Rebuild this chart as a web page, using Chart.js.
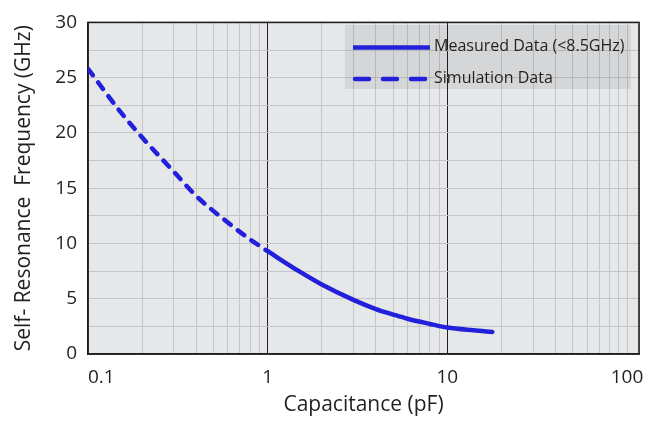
<!DOCTYPE html>
<html>
<head>
<meta charset="utf-8">
<script src="https://cdn.jsdelivr.net/npm/chart.js@4.4.1/dist/chart.umd.min.js"></script>
<style>
  html, body { margin: 0; padding: 0; background: #fff; }
  #wrap { width: 659px; height: 422px; }
</style>
</head>
<body>
<div id="wrap"><canvas id="srfChart" width="659" height="422"></canvas></div>
<script>
// capacitance (pF) vs self-resonance frequency (GHz)
const capSim = [0.1, 0.15, 0.2, 0.3, 0.4, 0.6, 0.8, 1];
const freqSim = [25.8, 22.0, 19.6, 16.5, 14.3, 11.9, 10.35, 9.3];
const capMeas = [1, 1.5, 2, 3, 4, 5, 6, 8, 10, 14, 17.8];
const freqMeas = [9.3, 7.47, 6.29, 4.9, 4.07, 3.57, 3.19, 2.72, 2.39, 2.14, 2.0];

const xLabels = [0.1, 1, 10, 100];
const xMin = 0.1, xMax = 116.6;
const yMin = 0, yMax = 30, yStep = 2.5;

const seriesNames = ['Measured Data (<8.5GHz)', 'Simulation Data'];
const xTitle = 'Capacitance (pF)';
const yTitle = 'Self- Resonance  Frequency (GHz)';

const BLUE = '#2320dc';
const INK = '#231f20';
const GRID = '#c4c5c7';
const FONT = '"Open Sans", sans-serif';

// gridline positions for the log axis: 1..9 of each decade
let xGrid = [];
[0.1, 1, 10].forEach(d => {
    for (let m = 1; m < 10; m++) xGrid.push(+(d * m).toPrecision(3));
});
xGrid.push(100, xMax);

const plotDeco = {
    id: 'plotDeco',
    beforeDraw(chart) {
        const { ctx, chartArea: a } = chart;
        ctx.save();
        ctx.fillStyle = '#e6e7e8';
        ctx.fillRect(a.left, a.top, a.right - a.left, a.bottom - a.top);
        ctx.restore();
    },
    beforeDatasetsDraw(chart) {
        const { ctx, chartArea: a } = chart;
        ctx.save();
        ctx.strokeStyle = INK;
        ctx.lineWidth = 1.6;
        ctx.strokeRect(a.left, a.top, a.right - a.left, a.bottom - a.top);
        ctx.restore();
    },
    afterDraw(chart) {
        // legend box sits inside the plot
        const ctx = chart.ctx;
        ctx.save();
        ctx.fillStyle = 'rgba(0,0,0,0.07)';
        ctx.fillRect(345, 25, 286, 64);
        const rows = [
            { y: 47.5, dash: [], text: chart.data.datasets[0].label },
            { y: 79, dash: [14, 14], text: chart.data.datasets[1].label }
        ];
        rows.forEach(r => {
            ctx.beginPath();
            ctx.setLineDash(r.dash);
            ctx.lineCap = r.dash.length ? 'round' : 'butt';
            ctx.strokeStyle = BLUE;
            ctx.lineWidth = 4.5;
            ctx.moveTo(r.dash.length ? 355 : 353, r.y);
            ctx.lineTo(430, r.y);
            ctx.stroke();
            ctx.setLineDash([]);
            ctx.fillStyle = INK;
            ctx.font = '16px ' + FONT;
            ctx.textBaseline = 'middle';
            ctx.textAlign = 'left';
            ctx.fillText(r.text, 434, r.y - 1);
        });
        ctx.restore();
    }
};

const ctx = document.getElementById('srfChart').getContext('2d');
const srfChart = new Chart(ctx, {
    type: 'line',
    data: {
        datasets: [
            {
                label: seriesNames[0],
                data: capMeas.map((c, i) => ({ x: c, y: freqMeas[i] })),
                borderColor: BLUE,
                borderWidth: 4.5,
                borderCapStyle: 'round',
                pointRadius: 0,
                cubicInterpolationMode: 'monotone',
                fill: false
            },
            {
                label: seriesNames[1],
                data: capSim.map((c, i) => ({ x: c, y: freqSim[i] })),
                borderColor: BLUE,
                borderWidth: 4.5,
                borderDash: [8, 9],
                borderCapStyle: 'round',
                pointRadius: 0,
                cubicInterpolationMode: 'monotone',
                fill: false
            }
        ]
    },
    options: {
        responsive: false,
        animation: false,
        devicePixelRatio: 1,
        layout: { padding: { top: 15, right: 20, left: 0, bottom: 0 } },
        plugins: { legend: { display: false }, tooltip: { enabled: false } },
        scales: {
            x: {
                type: 'logarithmic',
                min: xMin,
                max: xMax,
                afterBuildTicks: axis => { axis.ticks = xGrid.map(v => ({ value: v })); },
                afterFit: axis => { axis.height = 68; },
                grid: {
                    drawTicks: false,
                    color: c => (c.tick && (c.tick.value === 1 || c.tick.value === 10)) ? INK : GRID,
                    lineWidth: 1
                },
                border: { color: INK, width: 1.6 },
                ticks: {
                    autoSkip: false,
                    maxRotation: 0,
                    align: 'inner',
                    padding: 12,
                    color: INK,
                    font: { family: FONT, size: 19 },
                    callback: v => xLabels.includes(v) ? String(v) : ''
                },
                title: {
                    display: true,
                    text: xTitle,
                    color: INK,
                    font: { family: FONT, size: 21 },
                    padding: { top: 0, bottom: 4 }
                }
            },
            y: {
                min: yMin,
                max: yMax,
                afterFit: axis => { axis.width = 88; },
                grid: { drawTicks: false, color: GRID, lineWidth: 1 },
                border: { color: INK, width: 1.6 },
                ticks: {
                    stepSize: yStep,
                    autoSkip: false,
                    padding: 11,
                    color: INK,
                    font: { family: FONT, size: 19 },
                    callback: v => (v % 5 === 0) ? String(v) : ''
                },
                title: {
                    display: true,
                    text: yTitle,
                    color: INK,
                    font: { family: FONT, size: 21 },
                    padding: { top: 11, bottom: 0 }
                }
            }
        }
    },
    plugins: [plotDeco]
});
</script>
</body>
</html>
